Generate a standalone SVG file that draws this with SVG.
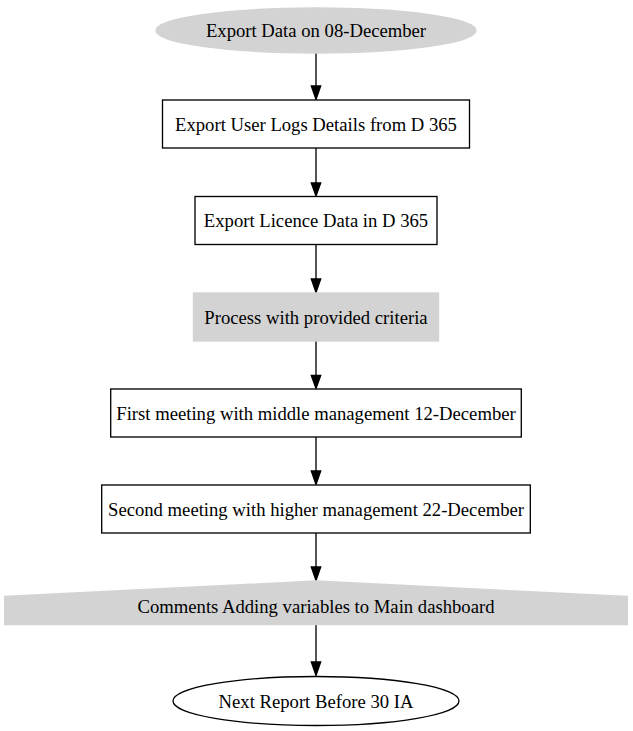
<svg xmlns="http://www.w3.org/2000/svg" width="633" height="731" viewBox="0 0 633 731">
<defs>
<style>
text{font-family:"Liberation Serif","Times New Roman",serif;font-size:18.67px;text-anchor:middle;fill:#000}
.o{fill:#fff;stroke:#000;stroke-width:1.33}
.g{fill:#d3d3d3;stroke:#d3d3d3;stroke-width:1.33}
.e{stroke:#000;stroke-width:1.33;fill:none}
.h{fill:#000;stroke:#000;stroke-width:1.33}
</style>
</defs>
<rect width="633" height="731" fill="#fff"/>
<g id="connectors">
<line class="e" x1="316" y1="53" x2="316" y2="86"/><polygon class="h" points="311.3,86 320.7,86 316,99.5"/>
<line class="e" x1="316" y1="148" x2="316" y2="183"/><polygon class="h" points="311.3,183 320.7,183 316,196"/>
<line class="e" x1="316" y1="244.5" x2="316" y2="279"/><polygon class="h" points="311.3,279 320.7,279 316,292.5"/>
<line class="e" x1="316" y1="341" x2="316" y2="375.5"/><polygon class="h" points="311.3,375.5 320.7,375.5 316,388.5"/>
<line class="e" x1="316" y1="437" x2="316" y2="471"/><polygon class="h" points="311.3,471 320.7,471 316,484.5"/>
<line class="e" x1="316" y1="533" x2="316" y2="567"/><polygon class="h" points="311.3,567 320.7,567 316,580.5"/>
<line class="e" x1="316" y1="625" x2="316" y2="662"/><polygon class="h" points="311.3,662 320.7,662 316,675.5"/>
</g>
<g id="n1"><ellipse class="g" cx="316" cy="30.5" rx="160" ry="22.5"/><text x="316" y="37">Export Data on 08-December</text></g>
<g id="n2"><rect class="o" x="162.5" y="100" width="307" height="48"/><text x="316" y="130.5">Export User Logs Details from D 365</text></g>
<g id="n3"><rect class="o" x="195" y="196.5" width="242" height="48"/><text x="316" y="227">Export Licence Data in D 365</text></g>
<g id="n4"><rect class="g" x="193.5" y="293" width="245" height="48"/><text x="316" y="323.5">Process with provided criteria</text></g>
<g id="n5"><rect class="o" x="110.7" y="389" width="410.6" height="48"/><text x="316" y="419.5">First meeting with middle management 12-December</text></g>
<g id="n6"><rect class="o" x="101.7" y="485" width="428.6" height="48"/><text x="316" y="515.5">Second meeting with higher management 22-December</text></g>
<g id="n7"><polygon class="g" points="316,581 627.3,596.5 627.3,624.5 4.7,624.5 4.7,596.5"/><text x="316" y="613">Comments Adding variables to Main dashboard</text></g>
<g id="n8"><ellipse class="o" cx="316" cy="701" rx="143" ry="24.5"/><text x="316" y="707.5">Next Report Before 30 IA</text></g>
</svg>
